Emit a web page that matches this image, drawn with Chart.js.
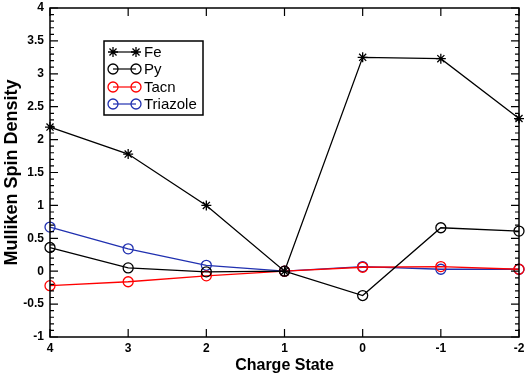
<!DOCTYPE html>
<html><head><meta charset="utf-8">
<script src="https://cdn.jsdelivr.net/npm/chart.js@4/dist/chart.umd.min.js"></script>
<style>html,body{margin:0;padding:0;background:#fff}#wrap{width:529px;height:375px}</style>
</head><body><div id="wrap"><canvas id="c" width="529" height="375"></canvas></div>
<script>
const categories = ['4','3','2','1','0','-1','-2'];
const fe       = [2.19, 1.78, 1.00, 0.00, 3.25, 3.23, 2.32];
const py       = [0.36, 0.05, -0.01, 0.00, -0.37, 0.66, 0.61];
const tacn     = [-0.22, -0.16, -0.07, 0.00, 0.06, 0.07, 0.03];
const triazole = [0.67, 0.34, 0.09, 0.00, 0.07, 0.03, 0.03];
const seriesNames = ['Fe','Py','Tacn','Triazole'];
const yMin = -1, yMax = 4, yStep = 0.5, yMinor = 0.1;

const FONT = '"Liberation Sans", Arial, Helvetica, sans-serif';

const frame = {
  id: 'frame',
  afterDraw(chart) {
    const {ctx, chartArea: a, scales} = chart;
    const x = scales.x, y = scales.y;
    ctx.save();
    ctx.strokeStyle = '#000';
    ctx.lineWidth = 1.5;
    ctx.strokeRect(a.left, a.top, a.right - a.left, a.bottom - a.top);
    ctx.lineWidth = 1.2;
    ctx.beginPath();
    for (let v = yMin; v <= yMax + 1e-9; v += yMinor) {
      const r = Math.round(v * 10) / 10;
      const major = Math.abs(r / yStep - Math.round(r / yStep)) < 1e-6;
      const len = major ? 8 : 4;
      const py = y.getPixelForValue(r);
      ctx.moveTo(a.left, py); ctx.lineTo(a.left + len, py);
      ctx.moveTo(a.right, py); ctx.lineTo(a.right - len, py);
    }
    categories.forEach((c, i) => {
      const px = x.getPixelForValue(i);
      ctx.moveTo(px, a.bottom); ctx.lineTo(px, a.bottom - 8);
      ctx.moveTo(px, a.top); ctx.lineTo(px, a.top + 8);
    });
    ctx.stroke();

    const lx = 104, ly = 41, lw = 99, lh = 74;
    ctx.fillStyle = '#fff';
    ctx.fillRect(lx, ly, lw, lh);
    ctx.lineWidth = 1.5;
    ctx.strokeRect(lx, ly, lw, lh);
    const rows = [52, 69, 87, 104];
    chart.data.datasets.forEach((ds, i) => {
      const yy = rows[i];
      ctx.strokeStyle = ds.borderColor;
      ctx.lineWidth = 1.2;
      ctx.beginPath();
      ctx.moveTo(113, yy); ctx.lineTo(136, yy);
      ctx.stroke();
      ctx.strokeStyle = ds.borderColor;
      ctx.fillStyle = 'rgba(0,0,0,0)';
      ctx.lineWidth = 1.3;
      const o = {pointStyle: ds.pointStyle, radius: 5, borderWidth: 1.3, rotation: 0};
      Chart.helpers.drawPoint(ctx, o, 113, yy);
      Chart.helpers.drawPoint(ctx, o, 136, yy);
      ctx.fillStyle = '#000';
      ctx.font = '15px ' + FONT;
      ctx.textBaseline = 'middle';
      ctx.textAlign = 'left';
      ctx.fillText(ds.label, 144, yy + 1);
    });
    ctx.restore();
  }
};

function ds(label, data, color, style) {
  return {
    label, data,
    borderColor: color, backgroundColor: 'rgba(0,0,0,0)',
    borderWidth: 1.3,
    pointStyle: style, pointRadius: 5, pointHoverRadius: 5,
    pointBorderColor: color, pointBackgroundColor: 'rgba(0,0,0,0)',
    pointBorderWidth: 1.3,
    tension: 0
  };
}

new Chart(document.getElementById('c'), {
  type: 'line',
  data: {
    labels: categories,
    datasets: [
      ds(seriesNames[0], fe, '#000000', 'star'),
      ds(seriesNames[1], py, '#000000', 'circle'),
      ds(seriesNames[2], tacn, '#ff0000', 'circle'),
      ds(seriesNames[3], triazole, '#2030b0', 'circle')
    ]
  },
  options: {
    responsive: false, animation: false,
    layout: {padding: {left: 0, top: 8, right: 10, bottom: 0}},
    plugins: {legend: {display: false}, tooltip: {enabled: false}},
    scales: {
      x: {
        type: 'category', offset: false,
        grid: {display: false, drawTicks: false},
        border: {display: false},
        ticks: {color: '#000', font: {family: FONT, size: 12, weight: 'bold'}, padding: 4, maxRotation: 0, autoSkip: false},
        title: {display: true, text: 'Charge State', color: '#000', font: {family: FONT, size: 16, weight: 'bold'}, padding: {top: 0, bottom: 0}},
        afterFit(s) { s.height = 38; s.paddingLeft = 0; s.paddingRight = 0; }
      },
      y: {
        min: yMin, max: yMax,
        grid: {display: false, drawTicks: false},
        border: {display: false},
        ticks: {stepSize: yStep, color: '#000', font: {family: FONT, size: 12, weight: 'bold'}, padding: 6,
                callback: v => String(Math.round(v * 10) / 10)},
        title: {display: true, text: 'Mulliken Spin Density', color: '#000', font: {family: FONT, size: 18, weight: 'bold'}, padding: {top: 1, bottom: 2}},
        afterFit(s) { s.width = 50; s.paddingTop = 0; s.paddingBottom = 0; }
      }
    }
  },
  plugins: [frame]
});
</script></body></html>
